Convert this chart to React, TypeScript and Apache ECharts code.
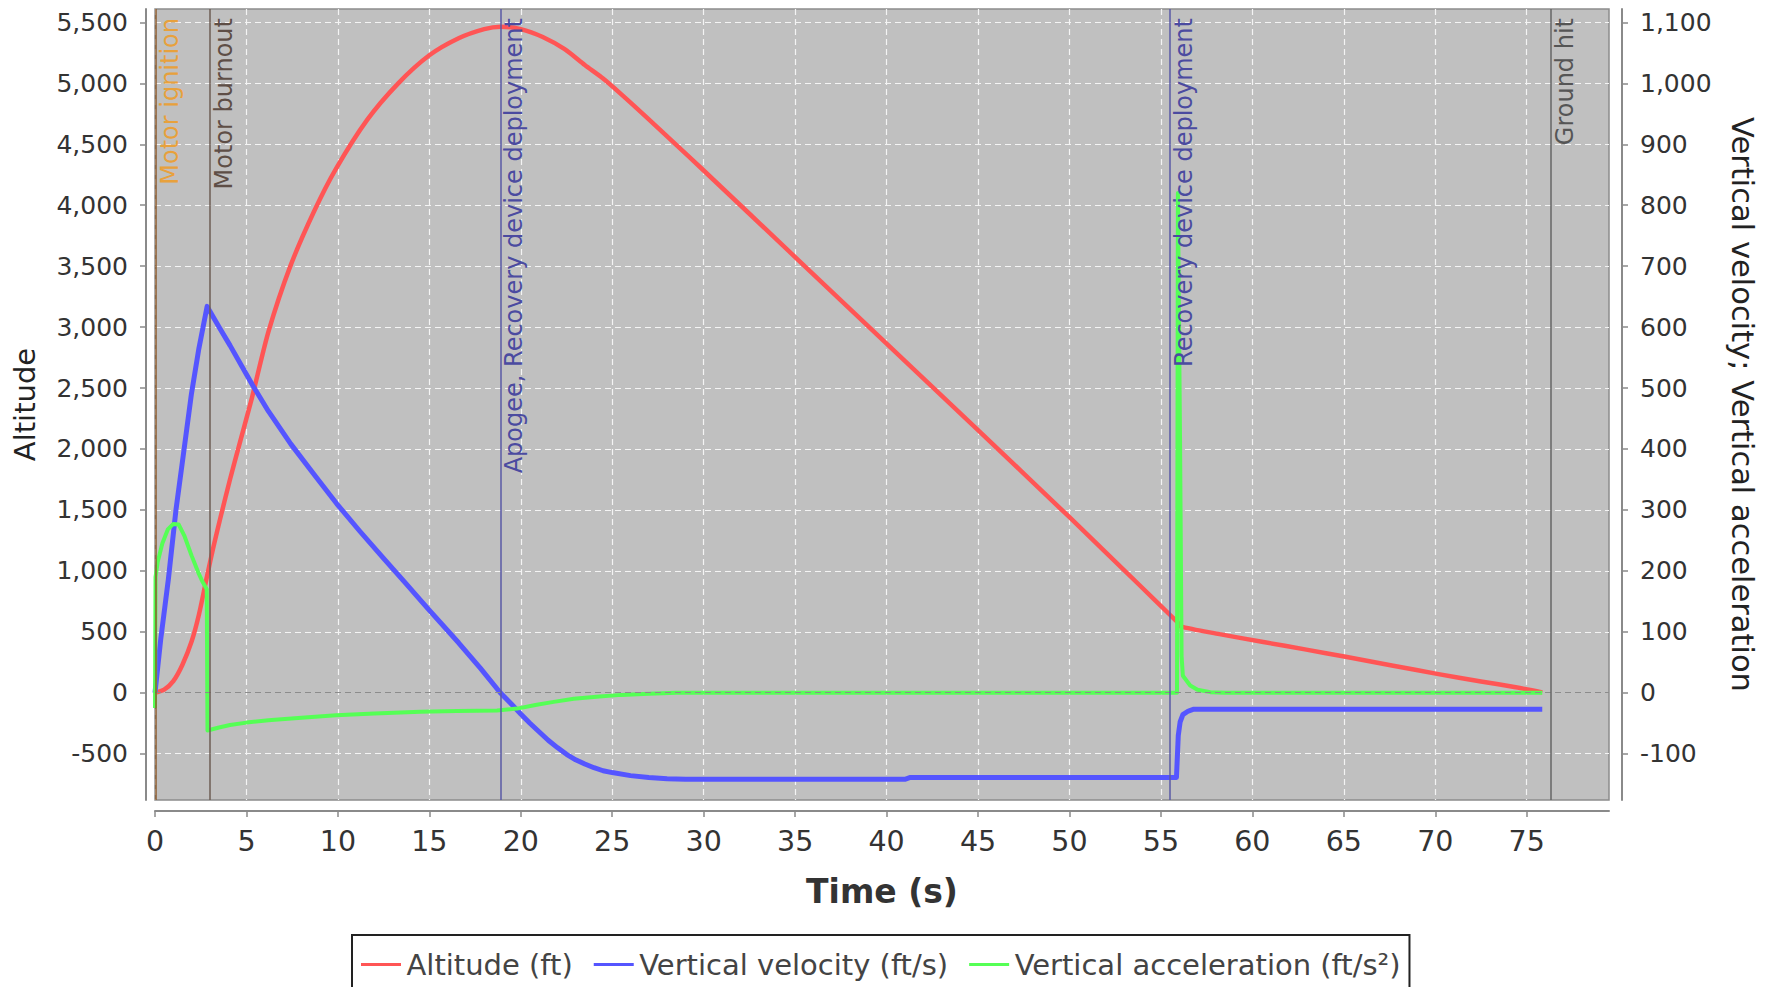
import React, { useEffect, useRef } from 'react';
import * as echarts from 'echarts';

// Tick labels
const timeTicks = [0, 5, 10, 15, 20, 25, 30, 35, 40, 45, 50, 55, 60, 65, 70, 75];
const altitudeTicks = [-500, 0, 500, 1000, 1500, 2000, 2500, 3000, 3500, 4000, 4500, 5000, 5500];
const rateTicks = [-100, 0, 100, 200, 300, 400, 500, 600, 700, 800, 900, 1000, 1100];

// Series: [time (s), value]
const altitude: [number, number][] = [
  [0, 0], [0.5, 25], [1.0, 95], [1.5, 230], [2.0, 420], [2.4, 640], [2.85, 960],
  [3.2, 1200], [3.6, 1450], [4.1, 1750], [4.6, 2030], [5.3, 2420], [6.2, 2960],
  [7.4, 3500], [8.7, 3950], [9.9, 4300], [11.6, 4700], [13.3, 5000], [15.0, 5230],
  [16.6, 5370], [18.0, 5445], [18.9, 5465], [20.0, 5445], [21.2, 5380], [22.4, 5280],
  [23.5, 5150], [24.5, 5040], [25.5, 4910], [27.0, 4705], [28.5, 4495], [30.0, 4285],
  [35.0, 3575], [40.0, 2865], [45.0, 2155], [50.0, 1440], [53.85, 880], [55.49, 640],
  [55.9, 580], [56.07, 545], [58.2, 481], [60.6, 416], [62.95, 354], [65.1, 295],
  [67.7, 222], [70.1, 155], [72.5, 93], [74.4, 45], [75.85, 3],
];

const velocity: [number, number][] = [
  [0, 0], [0.31, 87], [0.73, 186], [1.15, 301], [1.57, 395], [1.99, 490], [2.4, 565],
  [2.85, 634], [3.5, 600], [4.1, 570], [5.33, 505], [6.2, 462], [7.43, 408], [8.7, 358],
  [9.94, 310], [11.2, 265], [12.45, 222], [13.7, 180], [14.92, 138], [16.6, 82],
  [17.8, 40], [18.88, 0], [19.5, -19], [20.0, -35], [20.5, -50], [21.0, -64], [21.5, -78],
  [22.0, -90], [22.5, -101], [23.0, -110], [23.5, -117], [24.0, -123], [24.5, -128],
  [25.0, -131], [26.0, -136], [27.0, -139], [28.0, -141], [29.0, -142], [35.0, -142],
  [41.0, -142], [41.3, -139], [55.85, -139], [55.95, -70], [56.05, -48], [56.2, -36],
  [56.5, -30], [56.8, -27], [75.85, -27],
];

const acceleration: [number, number][] = [
  [0, -25], [0.03, 190], [0.15, 215], [0.4, 245], [0.7, 268], [1.0, 277], [1.3, 276],
  [1.6, 258], [2.0, 225], [2.4, 195], [2.6, 182], [2.83, 170], [2.87, -62], [3.5, -57],
  [4.1, -53], [5.0, -49], [6.2, -45], [8.0, -41], [9.9, -37], [12.0, -34], [14.5, -31],
  [16.5, -30], [18.7, -29], [19.8, -26], [20.8, -20], [21.8, -15], [22.9, -10],
  [24.3, -6], [25.5, -3.5], [27.0, -1.5], [28.5, 0], [55.88, 0], [55.93, 820],
  [56.05, 400], [56.13, 60], [56.2, 28], [56.6, 12], [57.0, 5], [57.7, 1], [58.5, 0],
  [75.85, 0],
];

// Flight events
const eventTimes = [0.04, 3.02, 18.88, 55.5, 76.33];
const eventNames = [
  'Motor ignition',
  'Motor burnout',
  'Apogee, Recovery device deployment',
  'Recovery device deployment',
  'Ground hit',
];
const eventLineColors = ['#8a5a2c', '#6e5e55', '#5a5aa6', '#5a5aa6', '#666666'];
const eventTextColors = ['#e8a13c', '#5e4e46', '#4b4ba0', '#4b4ba0', '#555555'];

const FONT = "'DejaVu Sans', sans-serif";
const AXIS_GRAY = '#8a8a8a';

const fmt = (v: number) => Number(v).toLocaleString('en-US');

export default function App() {
  const ref = useRef<HTMLDivElement>(null);

  useEffect(() => {
    if (!ref.current) return;
    const chart = echarts.init(ref.current, undefined, { renderer: 'svg' });

    const gridLine = { show: true, lineStyle: { color: '#f4f4f4', type: [6, 4] as any, width: 1.2 } };

    chart.setOption({
      animation: false,
      backgroundColor: '#ffffff',
      textStyle: { fontFamily: FONT },
      grid: {
        left: 155, right: 162, top: 9, bottom: 187,
        show: true, backgroundColor: '#c0c0c0', borderColor: '#8c8c8c', borderWidth: 1.5,
        containLabel: false,
      },
      legend: {
        left: 352, top: 935,
        padding: [15, 9, 20, 9],
        itemGap: 21, itemWidth: 41, itemHeight: 3,
        icon: 'path://M0,0 H40 V3 H0 Z',
        borderColor: '#222222', borderWidth: 2, backgroundColor: '#ffffff',
        textStyle: { fontSize: 29, color: '#444444', fontFamily: FONT },
        data: ['Altitude (ft)', 'Vertical velocity (ft/s)', 'Vertical acceleration (ft/s²)'],
      },
      xAxis: {
        type: 'value', min: 0, max: 79.5, interval: 5, offset: 11,
        axisLine: { show: true, onZero: false, lineStyle: { color: AXIS_GRAY, width: 2 } },
        axisTick: { show: true, length: 6, customValues: timeTicks, lineStyle: { color: AXIS_GRAY, width: 1.5 } },
        axisLabel: { customValues: timeTicks, fontSize: 28.5, color: '#333333', margin: 16, fontFamily: FONT },
        splitLine: gridLine,
        name: 'Time (s)', nameLocation: 'middle', nameGap: 64,
        nameTextStyle: { fontSize: 33, fontWeight: 'bold', color: '#333333', fontFamily: FONT },
      },
      yAxis: [
        {
          type: 'value', position: 'left', min: -880, max: 5610, splitNumber: 13, offset: 9,
          axisLine: { show: true, onZero: false, lineStyle: { color: AXIS_GRAY, width: 2 } },
          axisTick: { show: true, length: 6, customValues: altitudeTicks, lineStyle: { color: AXIS_GRAY, width: 1.5 } },
          axisLabel: { customValues: altitudeTicks, formatter: fmt, fontSize: 25, color: '#333333', margin: 18, fontFamily: FONT },
          splitLine: gridLine,
          name: 'Altitude', nameLocation: 'middle', nameGap: 107, nameRotate: 90,
          nameTextStyle: { fontSize: 29, color: '#222222', fontFamily: FONT },
        },
        {
          type: 'value', position: 'right', min: -176, max: 1122, splitNumber: 13, offset: 13,
          axisLine: { show: true, onZero: false, lineStyle: { color: AXIS_GRAY, width: 2 } },
          axisTick: { show: true, length: 6, customValues: rateTicks, lineStyle: { color: AXIS_GRAY, width: 1.5 } },
          axisLabel: { customValues: rateTicks, formatter: fmt, fontSize: 25, color: '#333333', margin: 18, fontFamily: FONT },
          splitLine: { show: false },
          name: 'Vertical velocity; Vertical acceleration', nameLocation: 'middle', nameGap: 105, nameRotate: -90,
          nameTextStyle: { fontSize: 30.5, color: '#222222', fontFamily: FONT },
        },
      ],
      series: [
        {
          name: 'Altitude (ft)', type: 'line', yAxisIndex: 0, data: altitude,
          symbol: 'none', smooth: 0.25, color: '#ff5555',
          lineStyle: { width: 4.5, color: '#ff5555', join: 'round' },
          markLine: {
            silent: true, symbol: ['none', 'none'], animation: false,
            label: { show: false },
            lineStyle: { color: '#8c8c8c', type: [6, 4], width: 1.2 },
            data: [{ yAxis: 0 }],
          },
        },
        {
          name: 'Vertical velocity (ft/s)', type: 'line', yAxisIndex: 1, data: velocity,
          symbol: 'none', color: '#5555ff',
          lineStyle: { width: 5, color: '#5555ff', join: 'round' },
        },
        {
          name: 'Vertical acceleration (ft/s²)', type: 'line', yAxisIndex: 1, data: acceleration,
          symbol: 'none', color: '#55ff55',
          lineStyle: { width: 4, color: '#55ff55', join: 'round' },
          markLine: {
            silent: true, symbol: ['none', 'none'], animation: false,
            label: {
              show: true, position: 'insideEndBottom', formatter: '{b}',
              distance: [9, 2], fontSize: 24, fontFamily: FONT,
            },
            data: eventTimes.map((t, i) => ({
              xAxis: t, name: eventNames[i],
              lineStyle: { color: eventLineColors[i], type: 'solid', width: 1.5 },
              label: { color: eventTextColors[i] },
            })),
          },
        },
      ],
    });

    return () => chart.dispose();
  }, []);

  return (
    <div
      ref={ref}
      style={{ position: 'fixed', left: 0, top: 0, width: '1771px', height: '987px', background: '#fff' }}
    />
  );
}
